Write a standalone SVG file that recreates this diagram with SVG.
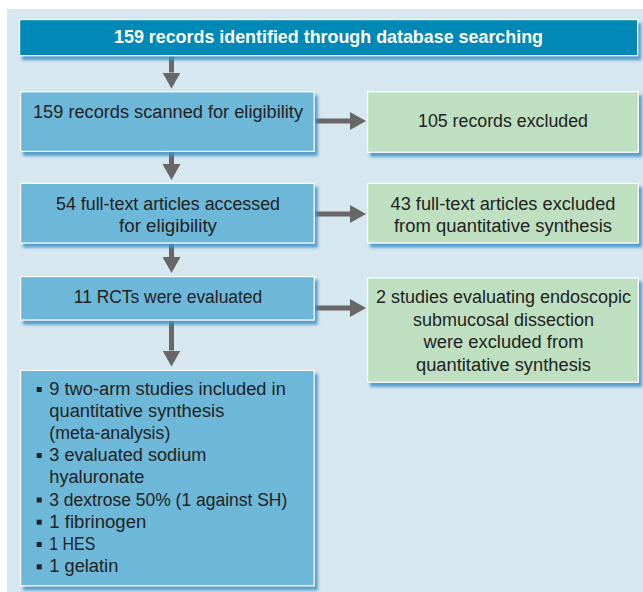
<svg xmlns="http://www.w3.org/2000/svg" width="643" height="592" viewBox="0 0 643 592">
  <defs>
    <filter id="shadow" x="-5%" y="-5%" width="115%" height="125%">
      <feDropShadow dx="3" dy="4" stdDeviation="1.6" flood-color="#3c91c4" flood-opacity="0.85"/>
    </filter>
    <marker id="head" viewBox="0 0 16 18" refX="0" refY="9" markerWidth="16" markerHeight="18" markerUnits="userSpaceOnUse" orient="auto">
      <path d="M0,0 L16,9 L0,18 z" fill="#676767"/>
    </marker>
    <style>
      .box { stroke: #ffffff; stroke-width: 1.2; filter: url(#shadow); }
      .dark { fill: #0088b6; }
      .blue { fill: #6db7d8; }
      .green { fill: #bee0c0; }
      text { font-family: "Liberation Sans", Arial, sans-serif; font-size: 17.6px; fill: #222222; }
      .c { text-anchor: middle; }
      .title { font-weight: bold; fill: #ffffff; font-size: 17.5px; }
      .bullet { fill: #222222; }
      .arrow { stroke: #676767; stroke-width: 5; fill: none; marker-end: url(#head); }
    </style>
  </defs>

  <!-- background panel -->
  <rect x="7" y="9" width="640" height="590" fill="#d7e7f0"/>

  <g id="connectors">
    <line class="arrow" x1="171.5" y1="56" x2="171.5" y2="72.5"/>
    <line class="arrow" x1="171.5" y1="152" x2="171.5" y2="164"/>
    <line class="arrow" x1="171.5" y1="243.5" x2="171.5" y2="257"/>
    <line class="arrow" x1="171.5" y1="320.5" x2="171.5" y2="350.5"/>
    <line class="arrow" x1="315" y1="121" x2="350" y2="121"/>
    <line class="arrow" x1="315" y1="214" x2="350" y2="214"/>
    <line class="arrow" x1="315" y1="308" x2="350" y2="308"/>
  </g>

  <g id="identified">
    <rect class="box dark" x="19.6" y="19.6" width="618" height="36"/>
    <text class="c title" x="328.5" y="43.3" textLength="429" lengthAdjust="spacingAndGlyphs">159 records identified through database searching</text>
  </g>

  <g id="scanned">
    <rect class="box blue" x="20.6" y="91.8" width="293.6" height="59.6"/>
    <text class="c" x="168" y="118.3" textLength="270" lengthAdjust="spacingAndGlyphs">159 records scanned for eligibility</text>
  </g>

  <g id="excluded-records">
    <rect class="box green" x="367.6" y="91.8" width="270.8" height="60.4"/>
    <text class="c" x="503" y="126.7" textLength="170" lengthAdjust="spacingAndGlyphs">105 records excluded</text>
  </g>

  <g id="full-text">
    <rect class="box blue" x="20.6" y="183.4" width="293.6" height="59.6"/>
    <text class="c" x="168" y="210" textLength="224" lengthAdjust="spacingAndGlyphs">54 full-text articles accessed</text>
    <text class="c" x="168" y="232" textLength="98" lengthAdjust="spacingAndGlyphs">for eligibility</text>
  </g>

  <g id="excluded-full-text">
    <rect class="box green" x="367.6" y="183.4" width="270.8" height="59.6"/>
    <text class="c" x="503" y="210" textLength="225" lengthAdjust="spacingAndGlyphs">43 full-text articles excluded</text>
    <text class="c" x="503" y="232" textLength="218" lengthAdjust="spacingAndGlyphs">from quantitative synthesis</text>
  </g>

  <g id="rcts">
    <rect class="box blue" x="20.6" y="276.6" width="293.6" height="43.4"/>
    <text class="c" x="168" y="302.7" textLength="188.5" lengthAdjust="spacingAndGlyphs">11 RCTs were evaluated</text>
  </g>

  <g id="excluded-esd">
    <rect class="box green" x="367.6" y="278" width="270.8" height="104.2"/>
    <text class="c" x="503.5" y="303.3" textLength="255" lengthAdjust="spacingAndGlyphs">2 studies evaluating endoscopic</text>
    <text class="c" x="503.5" y="325.7" textLength="181" lengthAdjust="spacingAndGlyphs">submucosal dissection</text>
    <text class="c" x="503.5" y="348.3" textLength="160" lengthAdjust="spacingAndGlyphs">were excluded from</text>
    <text class="c" x="503.5" y="371" textLength="175" lengthAdjust="spacingAndGlyphs">quantitative synthesis</text>
  </g>

  <g id="included">
    <rect class="box blue" x="20.6" y="370.4" width="293.6" height="215.4"/>
    <rect class="bullet" x="36.7" y="387" width="5" height="5"/>
    <text x="49.3" y="395" textLength="236.5" lengthAdjust="spacingAndGlyphs">9 two-arm studies included in</text>
    <text x="49.3" y="417" textLength="175" lengthAdjust="spacingAndGlyphs">quantitative synthesis</text>
    <text x="49.3" y="439.3" textLength="121" lengthAdjust="spacingAndGlyphs">(meta-analysis)</text>
    <rect class="bullet" x="36.7" y="453" width="5" height="5"/>
    <text x="49.3" y="461" textLength="157" lengthAdjust="spacingAndGlyphs">3 evaluated sodium</text>
    <text x="49.3" y="483" textLength="95" lengthAdjust="spacingAndGlyphs">hyaluronate</text>
    <rect class="bullet" x="36.7" y="497.5" width="5" height="5"/>
    <text x="49.3" y="505.5" textLength="238" lengthAdjust="spacingAndGlyphs">3 dextrose 50% (1 against SH)</text>
    <rect class="bullet" x="36.7" y="519.7" width="5" height="5"/>
    <text x="49.3" y="527.7" textLength="97" lengthAdjust="spacingAndGlyphs">1 fibrinogen</text>
    <rect class="bullet" x="36.7" y="542" width="5" height="5"/>
    <text x="49.3" y="550" textLength="46" lengthAdjust="spacingAndGlyphs">1 HES</text>
    <rect class="bullet" x="36.7" y="564.3" width="5" height="5"/>
    <text x="49.3" y="572.3" textLength="69" lengthAdjust="spacingAndGlyphs">1 gelatin</text>
  </g>
</svg>
